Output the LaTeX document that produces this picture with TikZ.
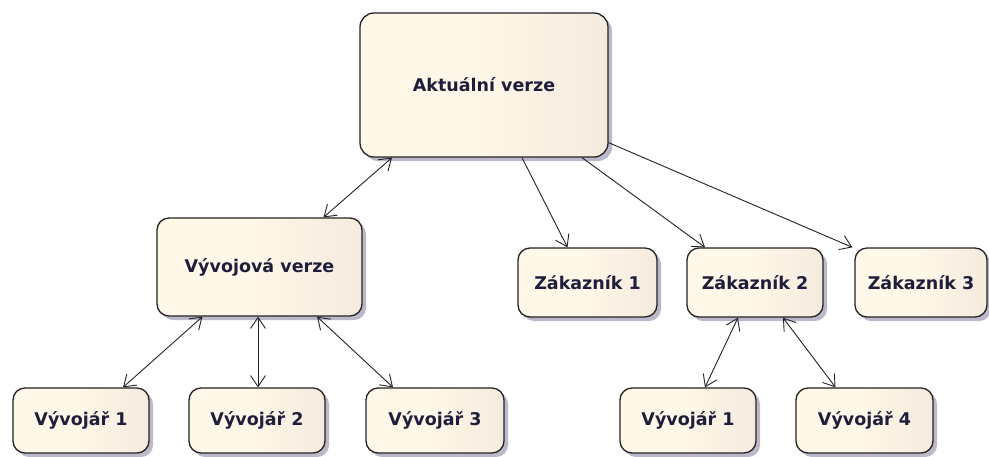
\documentclass[tikz,border=0pt]{standalone}
\usepackage{fontspec}
\setmainfont{DejaVu Sans}
\usetikzlibrary{arrows.meta,shadows}

\definecolor{boxcream}{RGB}{255,247,231}
\definecolor{boxmid}{RGB}{246,236,224}
\definecolor{boxbeige}{RGB}{226,221,207}
\definecolor{shadowc}{RGB}{188,184,202}
\definecolor{textc}{RGB}{30,30,60}
\definecolor{linec}{RGB}{35,35,35}

\pgfdeclarehorizontalshading{boxgrad}{100bp}{%
  color(0bp)=(boxcream); color(48bp)=(boxcream);
  color(72bp)=(boxmid); color(100bp)=(boxbeige)}

\tikzset{
  statebox/.style={
    draw=linec, line width=1.3pt, rounded corners=12pt,
    shading=boxgrad, text=textc,
    font=\fontsize{17.5}{20}\selectfont\bfseries,
    drop shadow={shadow xshift=4pt, shadow yshift=-4pt, fill=shadowc, opacity=1},
    inner sep=0pt, anchor=center},
  link/.style={draw=linec, line width=0.9pt,
    -{Straight Barb[length=11pt,width=15pt,line width=0.9pt]}},
  duplex/.style={draw=linec, line width=0.9pt,
    {Straight Barb[length=11pt,width=15pt,line width=0.9pt]}-{Straight Barb[length=11pt,width=15pt,line width=0.9pt]}}
}

\begin{document}
\begin{tikzpicture}[x=1pt,y=-1pt]
\useasboundingbox[fill=white] (0,0) rectangle (989,456);

% top level
\node[statebox, minimum width=248pt, minimum height=144pt, rounded corners=14pt] (akt) at (484,85) {Aktuální verze};

% second level
\node[statebox, minimum width=205pt, minimum height=98pt] (vyv) at (259.5,267) {Vývojová verze};
\node[statebox, minimum width=139pt, minimum height=69pt] (z1) at (587.5,282.5) {Zákazník 1};
\node[statebox, minimum width=136pt, minimum height=69pt] (z2) at (755,282.5) {Zákazník 2};
\node[statebox, minimum width=132pt, minimum height=69pt] (z3) at (921,282.5) {Zákazník 3};

% developers
\node[statebox, minimum width=136pt, minimum height=65pt] (d1) at (81,420.5) {Vývojář 1};
\node[statebox, minimum width=136pt, minimum height=65pt] (d2) at (257,420.5) {Vývojář 2};
\node[statebox, minimum width=138pt, minimum height=65pt] (d3) at (435,420.5) {Vývojář 3};
\node[statebox, minimum width=136pt, minimum height=65pt] (r1) at (688,420.5) {Vývojář 1};
\node[statebox, minimum width=137pt, minimum height=65pt] (d4) at (864.5,420.5) {Vývojář 4};

% connectors from the current version
\draw[duplex] ([xshift=-92pt]akt.south) -- ([xshift=64pt]vyv.north);
\draw[link] ([xshift=38pt]akt.south) -- ([xshift=-20pt]z1.north);
\draw[link] ([xshift=98pt]akt.south) -- ([xshift=-50pt]z2.north);
\draw[link] ([yshift=15pt]akt.south east) -- ([xshift=-2pt]z3.north west);

% development branch
\draw[duplex] ([xshift=-57pt]vyv.south) -- ([xshift=42pt]d1.north);
\draw[duplex] ([xshift=-1.5pt]vyv.south) -- ([xshift=1pt]d2.north);
\draw[duplex] ([xshift=57.5pt]vyv.south) -- ([xshift=-42pt]d3.north);

% customer 2 branch
\draw[duplex] ([xshift=-17pt]z2.south) -- ([xshift=17pt]r1.north);
\draw[duplex] ([xshift=28pt]z2.south) -- ([xshift=-29pt]d4.north);
\end{tikzpicture}
\end{document}
